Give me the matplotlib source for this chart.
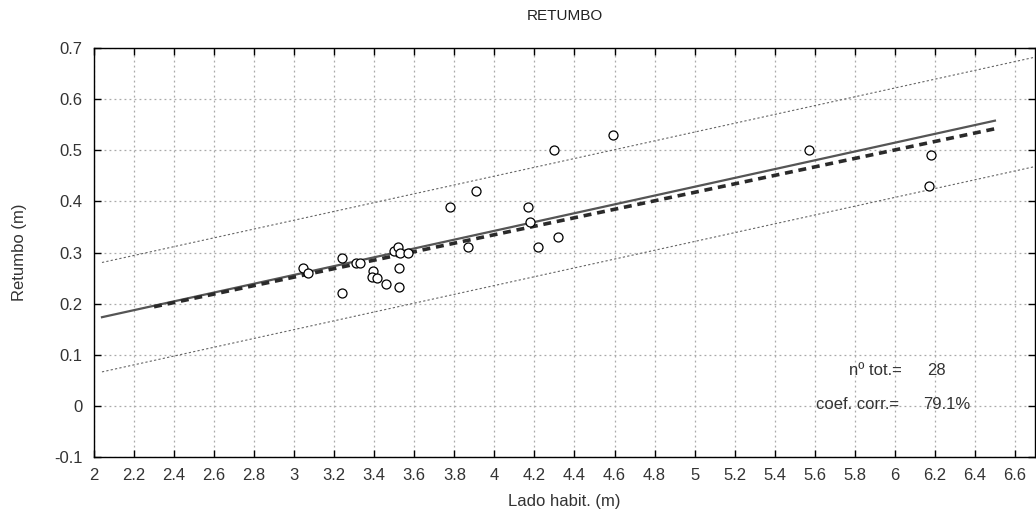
import matplotlib
matplotlib.use("Agg")
import matplotlib.pyplot as plt
import numpy as np

plt.rcParams['font.family'] = ['Liberation Sans', 'DejaVu Sans']

# data
lado = [3.045, 3.07, 3.24, 3.24, 3.31, 3.33, 3.395, 3.387, 3.415, 3.457,
        3.50, 3.52, 3.53, 3.57, 3.525, 3.525, 3.78, 3.87, 3.91, 4.17,
        4.18, 4.22, 4.30, 4.32, 4.59, 5.57, 6.17, 6.18]
retumbo = [0.27, 0.26, 0.29, 0.22, 0.28, 0.28, 0.263, 0.253, 0.25, 0.239,
           0.303, 0.31, 0.30, 0.30, 0.27, 0.232, 0.39, 0.311, 0.42, 0.39,
           0.36, 0.31, 0.50, 0.33, 0.53, 0.50, 0.43, 0.49]

fit_slope, fit_intercept = 0.0862, -0.0023
fit_range = [2.04, 6.50]
alt_slope, alt_intercept = 0.0829, 0.0033
alt_range = [2.30, 6.50]
band_halfwidth = 0.107
band_range = [2.04, 6.70]

n_tot = 28
coef_corr = "79.1%"

xticks = [2, 2.2, 2.4, 2.6, 2.8, 3, 3.2, 3.4, 3.6, 3.8, 4, 4.2, 4.4, 4.6, 4.8,
          5, 5.2, 5.4, 5.6, 5.8, 6, 6.2, 6.4, 6.6]
xticklabels = ["2", "2.2", "2.4", "2.6", "2.8", "3", "3.2", "3.4", "3.6", "3.8",
               "4", "4.2", "4.4", "4.6", "4.8", "5", "5.2", "5.4", "5.6", "5.8",
               "6", "6.2", "6.4", "6.6"]
yticks = [-0.1, 0, 0.1, 0.2, 0.3, 0.4, 0.5, 0.6, 0.7]
yticklabels = ["-0.1", "0", "0.1", "0.2", "0.3", "0.4", "0.5", "0.6", "0.7"]

fig = plt.figure(figsize=(10.36, 5.17), dpi=100)
ax = fig.add_axes([0.0907, 0.116, 0.9083, 0.791])

txtc = '#333333'

# confidence band lines
xb = np.array(band_range)
yb = fit_intercept + fit_slope * xb
ax.plot(xb, yb + band_halfwidth, color='#666666', lw=0.8, ls=(0, (2, 2)), zorder=2)
ax.plot(xb, yb - band_halfwidth, color='#666666', lw=0.8, ls=(0, (2, 2)), zorder=2)

# regression lines
xf = np.array(fit_range)
ax.plot(xf, fit_intercept + fit_slope * xf, color='#555555', lw=1.6, zorder=3)
xa = np.array(alt_range)
ax.plot(xa, alt_intercept + alt_slope * xa, color='#2a2a2a', lw=2.6,
        ls=(0, (2.2, 1.6)), zorder=3)

# points
ax.scatter(lado, retumbo, s=42, facecolors='white', edgecolors='black',
           linewidths=0.9, zorder=4)

ax.set_xlim(2.0, 6.70)
ax.set_ylim(-0.1, 0.7)
ax.set_xticks(xticks)
ax.set_xticklabels(xticklabels)
ax.set_yticks(yticks)
ax.set_yticklabels(yticklabels)
ax.grid(True, color='#aaaaaa', lw=0.9, ls=(0, (1.5, 2.5)))
ax.set_axisbelow(True)
ax.tick_params(direction='in', length=5, width=1, top=True, right=True,
               labelsize=12, labelcolor=txtc, pad=8)
for s in ax.spines.values():
    s.set_color('black')
    s.set_linewidth(1)

ax.set_title("RETUMBO", fontsize=11, color='#222222', pad=20)
ax.set_xlabel("Lado habit. (m)", fontsize=12, color=txtc, labelpad=8)
ax.set_ylabel("Retumbo (m)", fontsize=12, color=txtc, labelpad=20)

ax.text(6.036, 0.07, "nº tot.=", fontsize=12, color=txtc, ha='right', va='center')
ax.text(6.21, 0.07, str(n_tot), fontsize=12, color=txtc, ha='center', va='center')
ax.text(6.02, 0.002, "coef. corr.=", fontsize=12, color=txtc, ha='right', va='center')
ax.text(6.26, 0.002, coef_corr, fontsize=12, color=txtc, ha='center', va='center')

fig.savefig("out.png", dpi=100)
